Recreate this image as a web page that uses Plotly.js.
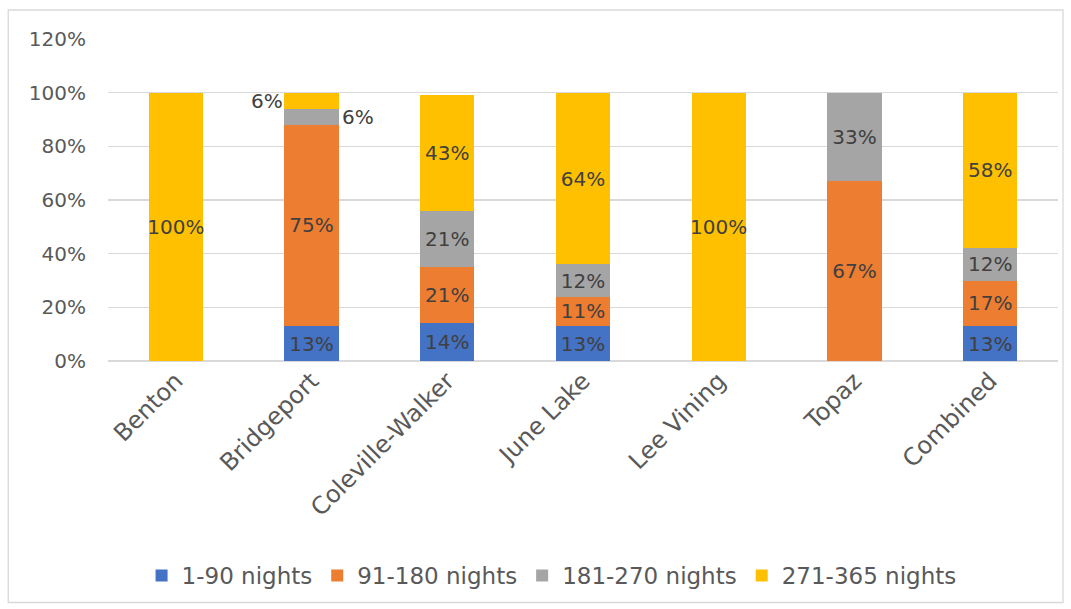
<!DOCTYPE html>
<html><head><meta charset="utf-8">
<script src="https://cdn.plot.ly/plotly-3.0.1.min.js"></script>
<style>html,body{margin:0;padding:0;background:#fff}#chart{width:1071px;height:609px}</style>
</head><body><div id="chart"></div>
<script>
const categories = ["Benton","Bridgeport","Coleville-Walker","June Lake","Lee Vining","Topaz","Combined"];
const seriesNames = ["1-90 nights","91-180 nights","181-270 nights","271-365 nights"];
const nights1to90    = [0, 13, 14, 13, 0, 0, 13];
const nights91to180  = [0, 75, 21, 11, 0, 67, 17];
const nights181to270 = [0, 6, 21, 12, 0, 33, 12];
const nights271to365 = [100, 6, 43, 64, 100, 0, 58];
const yTickVals = [0,20,40,60,80,100,120];
const yTickText = ["0%","20%","40%","60%","80%","100%","120%"];
const colors = ["#4472C4","#ED7D31","#A5A5A5","#FFC000"];
const FONT = "'DejaVu Sans', 'Noto Sans', sans-serif";
const txtColor = "#404040";
const FS = 20;

const allSeries = [nights1to90, nights91to180, nights181to270, nights271to365];
const outsideIdx = categories.indexOf("Bridgeport");
const traces = allSeries.map((vals, s) => ({
  type: "bar",
  name: seriesNames[s],
  x: categories,
  y: vals,
  marker: {color: colors[s]},
  text: vals.map((v, i) => (v === 0 || (i === outsideIdx && s >= 2)) ? "" : v + "%"),
  textposition: "inside",
  insidetextanchor: "middle",
  textangle: 0,
  constraintext: "none",
  textfont: {family: FONT, size: FS, color: txtColor},
  hoverinfo: "x+y+name"
}));

function cumTop(s, i){ let t=0; for(let k=0;k<=s;k++) t+=allSeries[k][i]; return t; }
const annotations = [
  {x: categories[outsideIdx], y: cumTop(3,outsideIdx) - nights271to365[outsideIdx]/2, text: nights271to365[outsideIdx]+"%",
   xref:"x", yref:"y", showarrow:false, xanchor:"right", xshift:-27, yshift:0,
   font:{family:FONT,size:FS,color:txtColor}},
  {x: categories[outsideIdx], y: cumTop(2,outsideIdx) - nights181to270[outsideIdx]/2, text: nights181to270[outsideIdx]+"%",
   xref:"x", yref:"y", showarrow:false, xanchor:"left", xshift:28, yshift:0,
   font:{family:FONT,size:FS,color:txtColor}}
];

const layout = {
  width: 1071, height: 609,
  margin: {l: 108, r: 13, t: 39, b: 248, autoexpand: false},
  barmode: "stack",
  bargap: 0.6,
  paper_bgcolor: "#fff", plot_bgcolor: "#fff",
  font: {family: FONT, color: "#595959", size: FS},
  showlegend: true,
  legend: {orientation: "h", x: 0.515, xanchor: "center", xref: "container",
           y: 0.055, yanchor: "middle", yref: "container",
           bgcolor: "rgba(0,0,0,0)",
           font: {family: FONT, size: 23, color: "#595959"}, traceorder: "normal"},
  xaxis: {tickangle: -45, tickfont: {family: FONT, size: 24, color: "#595959"},
          showgrid: false, showline: false, ticks: "", automargin: false, fixedrange: true},
  yaxis: {range: [0, 120], tickvals: yTickVals, ticktext: yTickText,
          tickfont: {family: FONT, size: FS, color: "#595959"},
          showgrid: true, gridcolor: "#d9d9d9", gridwidth: 1.3,
          zeroline: true, zerolinecolor: "#d9d9d9", zerolinewidth: 1.3,
          ticks: "", ticklabelstandoff: 21, automargin: false, fixedrange: true},
  annotations: annotations,
  shapes: [{type: "rect", xref: "paper", yref: "paper", x0: -0.105, x1: 1.0053, y0: -0.75, y1: 1.09,
            line: {color: "#d9d9d9", width: 1.3}, fillcolor: "rgba(0,0,0,0)", layer: "below"}]
};
Plotly.newPlot("chart", traces, layout, {displayModeBar: false, staticPlot: true});
</script></body></html>
